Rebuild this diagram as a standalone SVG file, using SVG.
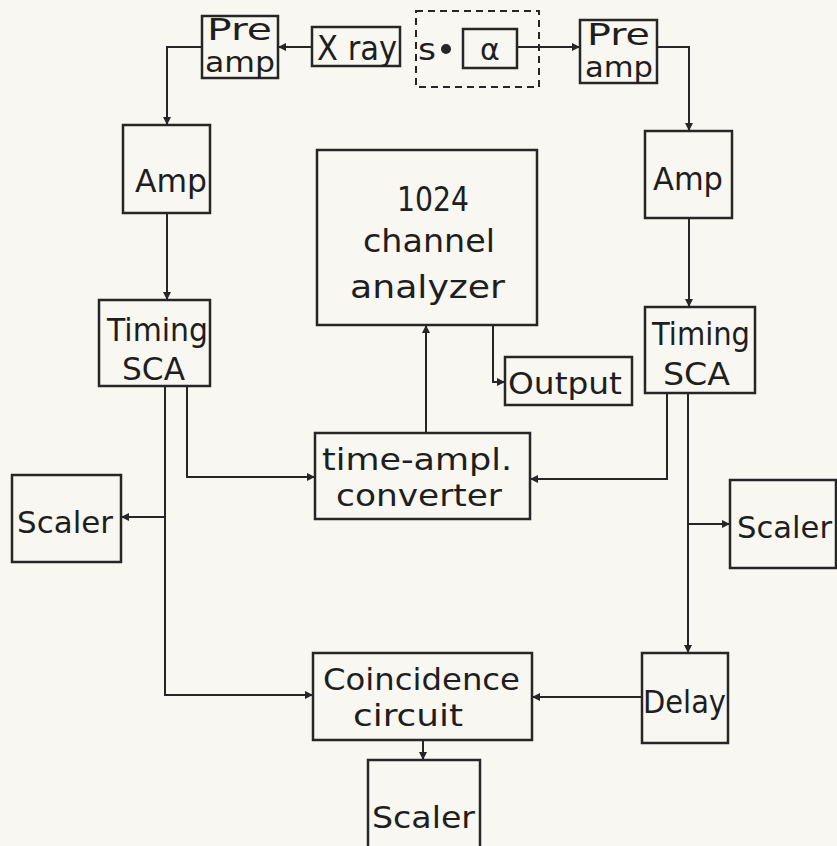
<svg xmlns="http://www.w3.org/2000/svg" width="837" height="846" viewBox="0 0 837 846">
<style>
.box{fill:none;stroke:#262626;stroke-width:2.5}
.dash{fill:none;stroke:#262626;stroke-width:2;stroke-dasharray:7 5}
.ln{fill:none;stroke:#262626;stroke-width:2}
text{font-family:"DejaVu Sans","Liberation Sans",sans-serif;fill:#1e1e1e}
</style>
<defs>
<marker id="ah" viewBox="0 0 10 10" refX="10" refY="5" markerWidth="13" markerHeight="8" markerUnits="userSpaceOnUse" orient="auto">
<path d="M0,0 L10,5 L0,10 z" fill="#262626"/>
</marker>
</defs>
<rect width="837" height="846" fill="#f8f7f1"/>
<g id="connectors">
<path class="ln" d="M312,47 H278" marker-end="url(#ah)"/>
<path class="ln" d="M517,47 H580" marker-end="url(#ah)"/>
<path class="ln" d="M202,47 H167 V125" marker-end="url(#ah)"/>
<path class="ln" d="M657,47 H689 V131" marker-end="url(#ah)"/>
<path class="ln" d="M167,213 V300" marker-end="url(#ah)"/>
<path class="ln" d="M689,218 V307" marker-end="url(#ah)"/>
<path class="ln" d="M187,386 V477 H315" marker-end="url(#ah)"/>
<path class="ln" d="M667,393 V479 H530" marker-end="url(#ah)"/>
<path class="ln" d="M165,386 V695 H313" marker-end="url(#ah)"/>
<path class="ln" d="M165,517 H121" marker-end="url(#ah)"/>
<path class="ln" d="M688,393 V653" marker-end="url(#ah)"/>
<path class="ln" d="M688,524 H730" marker-end="url(#ah)"/>
<path class="ln" d="M642,697 H532" marker-end="url(#ah)"/>
<path class="ln" d="M426,433 V325" marker-end="url(#ah)"/>
<path class="ln" d="M493,325 V382 H505" marker-end="url(#ah)"/>
<path class="ln" d="M423,740 V760" marker-end="url(#ah)"/>
</g>
<g id="preamp-left">
<rect class="box" x="202" y="16" width="76" height="62"/>
<text x="207" y="40" font-size="31" textLength="65" lengthAdjust="spacingAndGlyphs">Pre</text>
<text x="205" y="72" font-size="29" textLength="70" lengthAdjust="spacingAndGlyphs">amp</text>
</g>
<g id="xray">
<rect class="box" x="312" y="27" width="88" height="39"/>
<text x="317" y="60" font-size="34" textLength="80" lengthAdjust="spacingAndGlyphs">X ray</text>
</g>
<g id="source">
<rect class="dash" x="416" y="11" width="123" height="76"/>
<text x="418" y="60" font-size="30" textLength="18" lengthAdjust="spacingAndGlyphs">s</text>
<circle cx="446" cy="49" r="5" fill="#262626"/>
<rect class="box" x="463" y="29" width="54" height="39"/>
<text x="490" y="60" font-size="30" text-anchor="middle">α</text>
</g>
<g id="preamp-right">
<rect class="box" x="580" y="20" width="77" height="63"/>
<text x="587" y="45" font-size="31" textLength="63" lengthAdjust="spacingAndGlyphs">Pre</text>
<text x="585" y="77" font-size="29" textLength="68" lengthAdjust="spacingAndGlyphs">amp</text>
</g>
<g id="amp-left">
<rect class="box" x="123" y="125" width="87" height="88"/>
<text x="135" y="192" font-size="32" textLength="72" lengthAdjust="spacingAndGlyphs">Amp</text>
</g>
<g id="amp-right">
<rect class="box" x="645" y="131" width="87" height="87"/>
<text x="653" y="190" font-size="32" textLength="70" lengthAdjust="spacingAndGlyphs">Amp</text>
</g>
<g id="analyzer">
<rect class="box" x="317" y="150" width="220" height="175"/>
<text x="397" y="211" font-size="34" textLength="72" lengthAdjust="spacingAndGlyphs">1024</text>
<text x="363" y="252" font-size="32" textLength="132" lengthAdjust="spacingAndGlyphs">channel</text>
<text x="350" y="298" font-size="32" textLength="155" lengthAdjust="spacingAndGlyphs">analyzer</text>
</g>
<g id="timing-left">
<rect class="box" x="99" y="300" width="111" height="86"/>
<text x="107" y="341" font-size="32" textLength="101" lengthAdjust="spacingAndGlyphs">Timing</text>
<text x="122" y="380" font-size="32" textLength="63" lengthAdjust="spacingAndGlyphs">SCA</text>
</g>
<g id="timing-right">
<rect class="box" x="645" y="307" width="110" height="86"/>
<text x="652" y="345" font-size="32" textLength="98" lengthAdjust="spacingAndGlyphs">Timing</text>
<text x="663" y="385" font-size="32" textLength="67" lengthAdjust="spacingAndGlyphs">SCA</text>
</g>
<g id="output">
<rect class="box" x="505" y="357" width="127" height="48"/>
<text x="508" y="394" font-size="30" textLength="114" lengthAdjust="spacingAndGlyphs">Output</text>
</g>
<g id="tac">
<rect class="box" x="315" y="433" width="215" height="86"/>
<text x="322" y="470" font-size="30" textLength="190" lengthAdjust="spacingAndGlyphs">time-ampl.</text>
<text x="336" y="506" font-size="30" textLength="166" lengthAdjust="spacingAndGlyphs">converter</text>
</g>
<g id="scaler-left">
<rect class="box" x="12" y="475" width="109" height="87"/>
<text x="17" y="533" font-size="30" textLength="96" lengthAdjust="spacingAndGlyphs">Scaler</text>
</g>
<g id="scaler-right">
<rect class="box" x="730" y="480" width="106" height="88"/>
<text x="737" y="538" font-size="30" textLength="95" lengthAdjust="spacingAndGlyphs">Scaler</text>
</g>
<g id="coincidence">
<rect class="box" x="313" y="653" width="219" height="87"/>
<text x="323" y="690" font-size="31" textLength="197" lengthAdjust="spacingAndGlyphs">Coincidence</text>
<text x="353" y="726" font-size="31" textLength="110" lengthAdjust="spacingAndGlyphs">circuit</text>
</g>
<g id="delay">
<rect class="box" x="642" y="653" width="86" height="90"/>
<text x="643" y="713" font-size="32" textLength="83" lengthAdjust="spacingAndGlyphs">Delay</text>
</g>
<g id="scaler-bottom">
<rect class="box" x="368" y="760" width="112" height="100"/>
<text x="372" y="828" font-size="30" textLength="103" lengthAdjust="spacingAndGlyphs">Scaler</text>
</g>
</svg>
